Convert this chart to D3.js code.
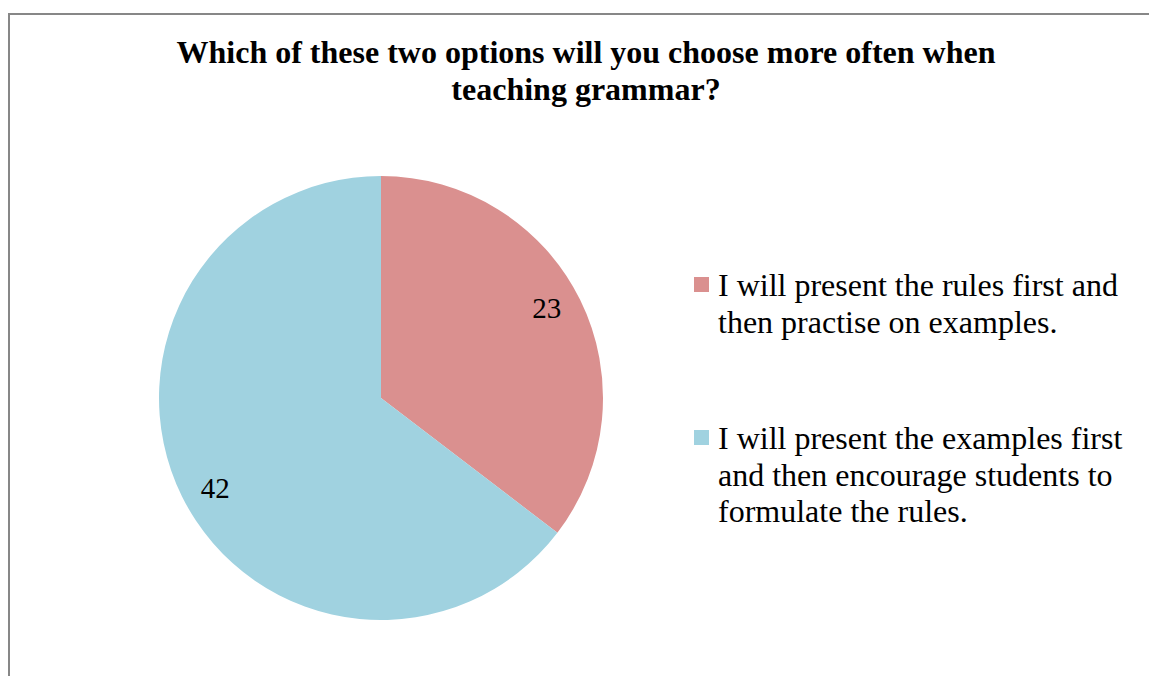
<!DOCTYPE html>
<html>
<head>
<meta charset="utf-8">
<script src="https://cdn.jsdelivr.net/npm/d3@7"></script>
<style>
  html, body { margin: 0; padding: 0; background: #fff; }
  svg { display: block; }
  text { font-family: "Liberation Serif", "Times New Roman", serif; fill: #000; }
</style>
</head>
<body>
<svg id="chart" width="1149" height="676"></svg>
<script>
const titleLines = ["Which of these two options will you choose more often when", "teaching grammar?"];
const categories = [
  "I will present the rules first and then practise on examples.",
  "I will present the examples first and then encourage students to formulate the rules."
];
const legendLines = [
  ["I will present the rules first and", "then practise on examples."],
  ["I will present the examples first", "and then encourage students to", "formulate the rules."]
];
const values = [23, 42];
const colors = ["#DA908F", "#A0D2E0"];

const svg = d3.select("#chart");

// chart border
svg.append("rect")
  .attr("x", 9).attr("y", 14)
  .attr("width", 1160).attr("height", 680)
  .attr("fill", "#fff")
  .attr("stroke", "#878787")
  .attr("stroke-width", 2);

// title
const title = svg.append("text")
  .attr("text-anchor", "middle")
  .attr("font-weight", "bold")
  .attr("font-size", 32);
titleLines.forEach((t, i) => {
  title.append("tspan").attr("x", 586).attr("y", 63 + i * 37).text(t);
});

// pie
const cx = 381, cy = 398, r = 222;
const pie = d3.pie().sort(null).value(d => d);
const arcs = pie(values);
const arc = d3.arc().innerRadius(0).outerRadius(r);

const g = svg.append("g").attr("transform", `translate(${cx},${cy})`);
g.selectAll("path.slice").data(arcs).join("path")
  .attr("class", "slice")
  .attr("d", arc)
  .attr("fill", (d, i) => colors[i]);

const labelR = r * 0.85;
g.selectAll("text.lbl").data(arcs).join("text")
  .attr("class", "lbl")
  .attr("transform", d => {
    const a = (d.startAngle + d.endAngle) / 2 - 0.038;
    return `translate(${labelR * Math.sin(a)},${-labelR * Math.cos(a)})`;
  })
  .attr("text-anchor", "middle")
  .attr("dominant-baseline", "central")
  .attr("font-size", 29)
  .text(d => d.data);

// legend
const legendTop = [296, 449];
const lg = svg.append("g");
legendLines.forEach((lines, i) => {
  lg.append("rect")
    .attr("x", 694).attr("y", legendTop[i] - 19)
    .attr("width", 15).attr("height", 15)
    .attr("fill", colors[i]);
  const t = lg.append("text").attr("font-size", 32);
  lines.forEach((ln, j) => {
    t.append("tspan").attr("x", 718).attr("y", legendTop[i] + j * 36.5).text(ln);
  });
});
</script>
</body>
</html>
